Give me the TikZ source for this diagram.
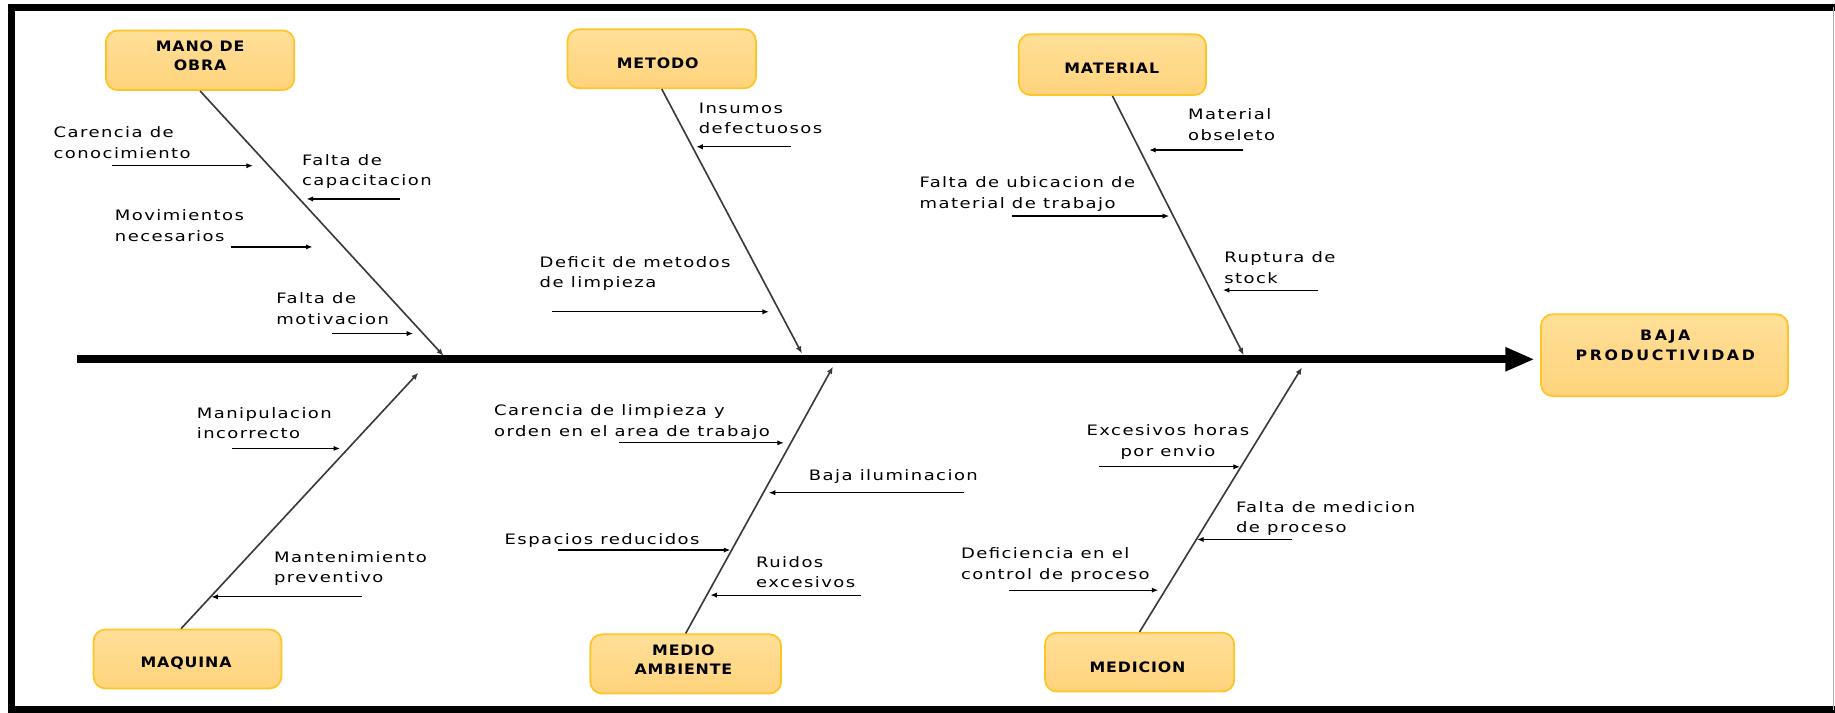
\documentclass[tikz,border=0pt]{standalone}
\usepackage{fontspec}
\usetikzlibrary{arrows.meta}
\newfontfamily\lblfont[FakeStretch=1.25,LetterSpace=10]{DejaVu Sans}
\newfontfamily\boxfont[FakeStretch=1.1,LetterSpace=6]{DejaVu Sans}
\definecolor{boxtop}{HTML}{FFDF98}
\definecolor{boxbot}{HTML}{FFD37C}
\definecolor{boxline}{HTML}{FFC425}
\definecolor{bonecol}{HTML}{3A3A3A}
\definecolor{edgegray}{HTML}{B0B0B0}
\tikzset{
  box/.style={draw=boxline, line width=1.5pt, rounded corners=10pt,
    top color=boxtop, bottom color=boxbot, inner sep=0pt},
  boxlabel/.style={font=\boxfont\bfseries\fontsize{12.3}{16.5}\selectfont,
    align=center, inner sep=0pt},
  lbl/.style={font=\lblfont\fontsize{12.3}{17.5}\selectfont,
    align=left, inner sep=0pt, anchor=north west},
  bone/.style={draw=bonecol, line width=1.4pt, -{Latex[length=6pt,width=5pt]}},
  sub/.style={draw=black, line width=1pt, -{Latex[length=5.5pt,width=4.5pt]}},
  spine/.style={draw=black, line width=6.5pt, -{Triangle[length=25pt,width=19pt]}}
}
\begin{document}
\begin{tikzpicture}[x=1pt, y=-1pt]
\useasboundingbox (0,0) rectangle (1568,609);
% frame
\draw[line width=6pt] (1568,6) -- (10,6) -- (10,606.5) -- (1568,606.5);
\draw[edgegray, line width=1pt] (1566.5,6) -- (1566.5,606.5);

% boxes
\node[box, minimum width=161pt, minimum height=51pt] (mano) at (171,51.5) {};
\node[box, minimum width=161pt, minimum height=50.5pt] (metodo) at (565.5,50.2) {};
\node[box, minimum width=160pt, minimum height=52pt] (material) at (950.6,55.2) {};
\node[box, minimum width=211pt, minimum height=70pt] (baja) at (1422.3,303.5) {};
\node[box, minimum width=160.5pt, minimum height=50.3pt] (maquina) at (160.2,563.1) {};
\node[box, minimum width=163pt, minimum height=50.6pt] (medio) at (585.9,567.3) {};
\node[box, minimum width=161.6pt, minimum height=50.3pt] (medicion) at (973.8,565.8) {};

\node[boxlabel] (manoT) at (171,47.7) {MANO DE\\OBRA};
\node[boxlabel] (metodoT) at (562,54) {METODO};
\node[boxlabel] (materialT) at (950,58.7) {MATERIAL};
\node[boxlabel, font=\boxfont\bfseries\fontsize{12.3}{17.5}\selectfont\addfontfeature{LetterSpace=18}] (bajaT) at (1423,295) {BAJA\\PRODUCTIVIDAD};
\node[boxlabel] (maquinaT) at (159,567) {MAQUINA};
\node[boxlabel] (medioT) at (584,563.7) {MEDIO\\AMBIENTE};
\node[boxlabel] (medicionT) at (972,569.8) {MEDICION};

% spine
\coordinate (sp0) at (66,307);
\draw[spine, shorten >=4.7pt] (sp0) -- (sp0 -| baja.west);

% bones
\coordinate (emano) at (379,304);
\coordinate (emetodo) at (685.2,302);
\coordinate (ematerial) at (1062.7,303.4);
\coordinate (emaquina) at (357.5,318.5);
\coordinate (emedio) at (711.7,313.4);
\coordinate (emedicion) at (1112.5,314);
\draw[bone] (mano.south) -- (emano);
\draw[bone] (metodo.south) -- (emetodo);
\draw[bone] (material.south) -- (ematerial);
\draw[bone] ([xshift=-5.5pt]maquina.north) -- (emaquina);
\draw[bone] (medio.north) -- (emedio);
\draw[bone] (medicion.north) -- (emedicion);

% MANO DE OBRA causes
\node[lbl] (t1) at (45.6,108) {Carencia de\\conocimiento};
\coordinate (a1s) at (95.6,141.6); \coordinate (a1e) at (216,141.6);
\draw[sub] (a1s) -- (a1e);
\node[lbl] (t2) at (258,131.6) {Falta de\\capacitacion};
\coordinate (a2s) at (342,170); \coordinate (a2e) at (262,170);
\draw[sub] (a2s) -- (a2e);
\node[lbl] (t3) at (98,179) {Movimientos\\necesarios};
\coordinate (a3s) at (197,211); \coordinate (a3e) at (267,211);
\draw[sub] (a3s) -- (a3e);
\node[lbl] (t4) at (236,250) {Falta de\\motivacion};
\coordinate (a4s) at (284,285); \coordinate (a4e) at (353,285);
\draw[sub] (a4s) -- (a4e);

% METODO causes
\node[lbl] (t5) at (597,87.8) {Insumos\\defectuosos};
\coordinate (a5s) at (676,125.4); \coordinate (a5e) at (595,125.4);
\draw[sub] (a5s) -- (a5e);
\node[lbl] (t6) at (461,219) {Deficit de metodos\\de limpieza};
\coordinate (a6s) at (472,266.4); \coordinate (a6e) at (657,266.4);
\draw[sub] (a6s) -- (a6e);

% MATERIAL causes
\node[lbl] (t7) at (1015,92.6) {Material\\obseleto};
\coordinate (a7s) at (1062.5,128.2); \coordinate (a7e) at (982,128.2);
\draw[sub] (a7s) -- (a7e);
\node[lbl] (t8) at (785.6,151) {Falta de ubicacion de\\material de trabajo};
\coordinate (a8s) at (865,184.6); \coordinate (a8e) at (999,184.6);
\draw[sub] (a8s) -- (a8e);
\node[lbl] (t9) at (1046,215) {Ruptura de\\stock};
\coordinate (a9s) at (1126.6,247.9); \coordinate (a9e) at (1045,247.9);
\draw[sub] (a9s) -- (a9e);

% MAQUINA causes
\node[lbl] (t10) at (168,348) {Manipulacion\\incorrecto};
\coordinate (a10s) at (198,383.2); \coordinate (a10e) at (290.5,383.2);
\draw[sub] (a10s) -- (a10e);
\node[lbl] (t11) at (234,471) {Mantenimiento\\preventivo};
\coordinate (a11s) at (309,510); \coordinate (a11e) at (180.7,510);
\draw[sub] (a11s) -- (a11e);

% MEDIO AMBIENTE causes
\node[lbl] (t12) at (422,345.6) {Carencia de limpieza y\\orden en el area de trabajo};
\coordinate (a12s) at (529,378.4); \coordinate (a12e) at (669.7,378.4);
\draw[sub] (a12s) -- (a12e);
\node[lbl] (t13) at (691,401) {Baja iluminacion};
\coordinate (a13s) at (824,421); \coordinate (a13e) at (657,421);
\draw[sub] (a13s) -- (a13e);
\node[lbl] (t14) at (431,455.8) {Espacios reducidos};
\coordinate (a14s) at (476.8,470); \coordinate (a14e) at (624,470);
\draw[sub] (a14s) -- (a14e);
\node[lbl] (t15) at (646,475.2) {Ruidos\\excesivos};
\coordinate (a15s) at (736,508.5); \coordinate (a15e) at (607,508.5);
\draw[sub] (a15s) -- (a15e);

% MEDICION causes
\node[lbl, align=center, anchor=north] (t16) at (998,363) {Excesivos horas\\por envio};
\coordinate (a16s) at (938.9,398.9); \coordinate (a16e) at (1059.5,398.9);
\draw[sub] (a16s) -- (a16e);
\node[lbl] (t17) at (1056,428) {Falta de medicion\\de proceso};
\coordinate (a17s) at (1104,461); \coordinate (a17e) at (1023,461);
\draw[sub] (a17s) -- (a17e);
\node[lbl] (t18) at (821,468) {Deficiencia en el\\control de proceso};
\coordinate (a18s) at (862,504.3); \coordinate (a18e) at (989.7,504.3);
\draw[sub] (a18s) -- (a18e);
\end{tikzpicture}
\end{document}
